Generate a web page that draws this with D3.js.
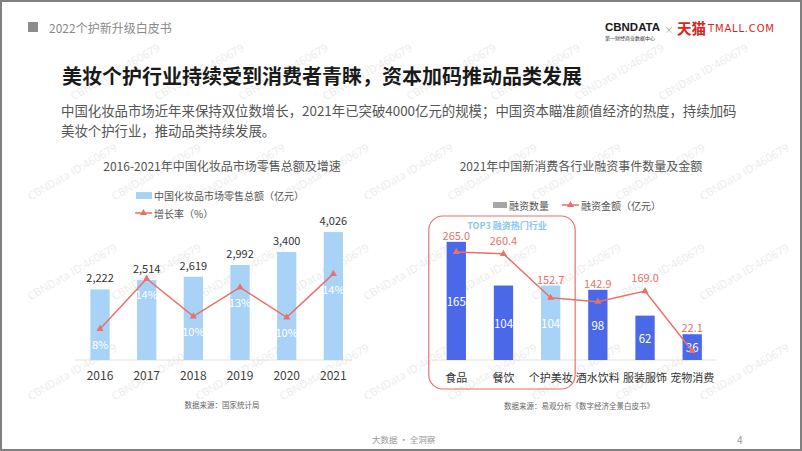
<!DOCTYPE html>
<html>
<head>
<meta charset="utf-8">
<script src="https://cdn.jsdelivr.net/npm/d3@7"></script>
<style>
  html, body { margin: 0; padding: 0; background: #fff; }
  svg { display: block; }
</style>
</head>
<body>
<svg id="chart" width="802" height="451"></svg>
<script>
// ---------------- DATA ----------------
const years = ["2016", "2017", "2018", "2019", "2020", "2021"];
const retailSales = [2222, 2514, 2619, 2992, 3400, 4026];      // 亿元
const growthRate = [8.3, 13.5, 9.6, 12.6, 9.5, 14.0];           // %

const industries = ["食品", "餐饮", "个护美妆", "酒水饮料", "服装服饰", "宠物消费"];
const dealCounts = [165, 104, 104, 98, 62, 36];
const dealAmounts = [265.0, 260.4, 152.7, 142.9, 169.0, 22.1];   // 亿元
const highlightIndustry = "个护美妆";
const top3Industries = ["食品", "餐饮", "个护美妆"];

const headerText = "2022个护新升级白皮书";
const titleText = "美妆个护行业持续受到消费者青睐，资本加码推动品类发展";
const subtitleLines = [
  "中国化妆品市场近年来保持双位数增长，2021年已突破4000亿元的规模；中国资本瞄准颜值经济的热度，持续加码",
  "美妆个护行业，推动品类持续发展。"
];
const leftTitle = "2016-2021年中国化妆品市场零售总额及增速";
const leftLegend = ["中国化妆品市场零售总额（亿元）", "增长率（%）"];
const leftSource = "数据来源：国家统计局";
const rightTitle = "2021年中国新消费各行业融资事件数量及金额";
const rightLegend = ["融资数量", "融资金额（亿元）"];
const rightSource = "数据来源：易观分析《数字经济全景白皮书》";
const topLabel = "TOP3 融资热门行业";
const footerText = "大数据 · 全洞察";
const pageNumber = "4";
const watermark = "CBNData ID:460679";

// ---------------- STYLE ----------------
const FONT = '"Noto Sans CJK SC", "Noto Sans", sans-serif';
const C_LIGHT = "#a8d3f7";
const C_BLUE = "#4a68e8";
const C_LINE = "#e9716b";
const C_GRAY_LEG = "#a6a6a6";

const svg = d3.select("#chart").style("font-family", FONT);

svg.append("rect").attr("width", 802).attr("height", 451).attr("fill", "#fff");

// watermarks (only those fully inside the frame)
const wm = svg.append("g").attr("fill", "#ececec").attr("font-size", 11)
  .attr("font-family", '"Open Sans", sans-serif');
for (let j = 0; j < 5; j++) {
  for (let i = -1; i < 10; i++) {
    const x = 77 + 84 * i + (j > 0 ? 41 : 0);
    const y = 50 + 100 * j;
    const t = wm.append("text").attr("transform", `translate(${x},${y}) rotate(-30)`)
      .attr("text-anchor", "end").text(watermark);
    const len = t.node().getComputedTextLength();
    const sx = x - len * 0.866, sy = y + len * 0.5;
    if (sx < 4 || x > 797 || y - 10 < 4 || sy + 6 > 446) t.remove();
  }
}

// frame
svg.append("rect").attr("x", 1).attr("y", 1).attr("width", 800).attr("height", 449)
  .attr("fill", "none").attr("stroke", "#808080").attr("stroke-width", 2);

// header
svg.append("rect").attr("x", 28).attr("y", 22).attr("width", 10).attr("height", 10).attr("fill", "#8c8c8c");
svg.append("text").attr("x", 49).attr("y", 27).attr("dominant-baseline", "central")
  .attr("font-size", 12).attr("fill", "#8a8a8a").text(headerText);

// logo
svg.append("text").attr("x", 605).attr("y", 26.5).attr("dominant-baseline", "central")
  .attr("font-family", '"Liberation Sans", Arial, sans-serif').attr("font-weight", "bold")
  .attr("font-size", 10.5).attr("textLength", 55).attr("lengthAdjust", "spacingAndGlyphs")
  .attr("fill", "#1a1a1a").text("CBNDATA");
svg.append("text").attr("x", 605).attr("y", 37).attr("dominant-baseline", "central")
  .attr("font-size", 5).attr("fill", "#333").text("第一财经商业数据中心");
svg.append("text").attr("x", 669).attr("y", 29).attr("dominant-baseline", "central")
  .attr("font-size", 9).attr("fill", "#999").attr("text-anchor", "middle").text("×");
svg.append("text").attr("x", 677).attr("y", 27.5).attr("dominant-baseline", "central")
  .attr("font-size", 14.5).attr("font-weight", "bold").attr("fill", "#d9261c").text("天猫");
svg.append("text").attr("x", 708).attr("y", 28.5).attr("dominant-baseline", "central")
  .attr("font-family", '"DejaVu Sans", sans-serif').attr("font-size", 10)
  .attr("textLength", 66).attr("fill", "#d9261c").text("TMALL.COM");

// title
svg.append("text").attr("x", 62).attr("y", 75).attr("dominant-baseline", "central")
  .attr("font-size", 20).attr("font-weight", "bold").attr("fill", "#1a1a1a").text(titleText);

// subtitle
subtitleLines.forEach((t, i) => {
  svg.append("text").attr("x", 61).attr("y", 110 + i * 20).attr("dominant-baseline", "central")
    .attr("font-size", 13.4).attr("fill", "#555").text(t);
});

function triangle(g, x, y, color) {
  g.append("path").attr("d", d3.symbol(d3.symbolTriangle, 22)())
    .attr("transform", `translate(${x},${y})`).attr("fill", color);
}

// ---------------- LEFT CHART ----------------
const baseY = 360;
const xL = d3.scalePoint().domain(years).range([76.7, 356.7]).padding(0.5);
const yL = d3.scaleLinear().domain([0, 4500]).range([baseY, 217]);
const yG = d3.scaleLinear().domain([0, 20]).range([409, 216]);
const barW = 19.3;

const L = svg.append("g");
L.append("text").attr("x", 222).attr("y", 165).attr("text-anchor", "middle")
  .attr("dominant-baseline", "central").attr("font-size", 12).attr("fill", "#555").text(leftTitle);

// legend
L.append("rect").attr("x", 136).attr("y", 192).attr("width", 16).attr("height", 7).attr("fill", C_LIGHT);
L.append("text").attr("x", 154).attr("y", 195.5).attr("dominant-baseline", "central")
  .attr("font-size", 10).attr("fill", "#555").text(leftLegend[0]);
L.append("line").attr("x1", 135).attr("x2", 152).attr("y1", 213).attr("y2", 213)
  .attr("stroke", C_LINE).attr("stroke-width", 1.5);
triangle(L, 143.5, 213, C_LINE);
L.append("text").attr("x", 154).attr("y", 213).attr("dominant-baseline", "central")
  .attr("font-size", 10).attr("fill", "#555").text(leftLegend[1]);

// baseline
L.append("line").attr("x1", 75).attr("x2", 352).attr("y1", baseY).attr("y2", baseY)
  .attr("stroke", "#e3e3e3").attr("stroke-width", 1);

// bars
L.selectAll(".bar").data(retailSales).join("rect")
  .attr("x", (d, i) => xL(years[i]) - barW / 2)
  .attr("y", d => yL(d)).attr("width", barW).attr("height", d => baseY - yL(d))
  .attr("fill", C_LIGHT);
L.selectAll(".vlab").data(retailSales).join("text")
  .attr("x", (d, i) => xL(years[i])).attr("y", d => yL(d) - 12)
  .attr("text-anchor", "middle").attr("dominant-baseline", "central")
  .attr("font-size", 11).attr("fill", "#333").text(d => d3.format(",")(d));

// line
const lineL = d3.line().x((d, i) => xL(years[i])).y(d => yG(d));
L.append("path").datum(growthRate).attr("d", lineL).attr("fill", "none")
  .attr("stroke", C_LINE).attr("stroke-width", 1.5);
growthRate.forEach((d, i) => triangle(L, xL(years[i]), yG(d), C_LINE));
L.selectAll(".glab").data(growthRate).join("text")
  .attr("x", (d, i) => xL(years[i])).attr("y", d => yG(d) + 15)
  .attr("text-anchor", "middle").attr("dominant-baseline", "central")
  .attr("font-size", 11).attr("fill", "#fff").text(d => Math.round(d) + "%");

// x labels
L.selectAll(".xlab").data(years).join("text")
  .attr("x", d => xL(d)).attr("y", 374.5).attr("text-anchor", "middle")
  .attr("dominant-baseline", "central").attr("font-size", 12).attr("fill", "#404040").text(d => d);

L.append("text").attr("x", 222).attr("y", 404.5).attr("text-anchor", "middle")
  .attr("dominant-baseline", "central").attr("font-size", 7.5).attr("fill", "#666").text(leftSource);

// ---------------- RIGHT CHART ----------------
const xR = d3.scalePoint().domain(industries).range([432.7, 715.8]).padding(0.5);
const yC = d3.scaleLinear().domain([0, 200]).range([baseY, 216.8]);
const yA = d3.scaleLinear().domain([0, 350]).range([baseY, 217.3]);

const R = svg.append("g");
R.append("text").attr("x", 581).attr("y", 165).attr("text-anchor", "middle")
  .attr("dominant-baseline", "central").attr("font-size", 12).attr("fill", "#555").text(rightTitle);

// legend
R.append("rect").attr("x", 493).attr("y", 202).attr("width", 14).attr("height", 6).attr("fill", C_GRAY_LEG);
R.append("text").attr("x", 509).attr("y", 205).attr("dominant-baseline", "central")
  .attr("font-size", 10).attr("fill", "#555").text(rightLegend[0]);
R.append("line").attr("x1", 562).attr("x2", 579).attr("y1", 205).attr("y2", 205)
  .attr("stroke", C_LINE).attr("stroke-width", 1.5);
triangle(R, 570.5, 205, C_LINE);
R.append("text").attr("x", 581).attr("y", 205).attr("dominant-baseline", "central")
  .attr("font-size", 10).attr("fill", "#555").text(rightLegend[1]);

// baseline
R.append("line").attr("x1", 432).attr("x2", 716).attr("y1", baseY).attr("y2", baseY)
  .attr("stroke", "#e3e3e3").attr("stroke-width", 1);

// bars
R.selectAll(".bar").data(dealCounts).join("rect")
  .attr("x", (d, i) => xR(industries[i]) - barW / 2)
  .attr("y", d => yC(d)).attr("width", barW).attr("height", d => baseY - yC(d))
  .attr("fill", (d, i) => industries[i] === highlightIndustry ? C_LIGHT : C_BLUE);
R.selectAll(".clab").data(dealCounts).join("text")
  .attr("x", (d, i) => xR(industries[i])).attr("y", d => (yC(d) + baseY) / 2)
  .attr("text-anchor", "middle").attr("dominant-baseline", "central")
  .attr("font-size", 11.5).attr("fill", "#fff").text(d => d);

// line
const lineR = d3.line().x((d, i) => xR(industries[i])).y(d => yA(d));
R.append("path").datum(dealAmounts).attr("d", lineR).attr("fill", "none")
  .attr("stroke", C_LINE).attr("stroke-width", 1.5);
dealAmounts.forEach((d, i) => triangle(R, xR(industries[i]), yA(d), C_LINE));
R.selectAll(".alab").data(dealAmounts).join("text")
  .attr("x", (d, i) => xR(industries[i]))
  .attr("y", (d, i) => Math.min(yA(d) - 14, yC(dealCounts[i]) - 7))
  .attr("text-anchor", "middle").attr("dominant-baseline", "central")
  .attr("font-size", 11).attr("fill", C_LINE).text(d => d3.format(".1f")(d));

// x labels
R.selectAll(".xlab").data(industries).join("text")
  .attr("x", d => xR(d)).attr("y", 377).attr("text-anchor", "middle")
  .attr("dominant-baseline", "central").attr("font-size", 11).attr("fill", "#333").text(d => d);

// TOP3 box
const bx0 = xR(top3Industries[0]) - 27.5;
const bx1 = xR(top3Industries[top3Industries.length - 1]) + 24.5;
R.append("rect").attr("x", bx0).attr("y", 216).attr("width", bx1 - bx0).attr("height", 173)
  .attr("rx", 14).attr("fill", "none").attr("stroke", C_LINE).attr("stroke-width", 1.2);
R.append("text").attr("x", (bx0 + bx1) / 2 + 5).attr("y", 225).attr("text-anchor", "middle")
  .attr("dominant-baseline", "central").attr("font-size", 9).attr("font-weight", "bold")
  .attr("fill", "#8cc6f2").text(topLabel);

R.append("text").attr("x", 579).attr("y", 405).attr("text-anchor", "middle")
  .attr("dominant-baseline", "central").attr("font-size", 7.5).attr("fill", "#666").text(rightSource);

// footer
svg.append("text").attr("x", 372).attr("y", 439).attr("dominant-baseline", "central")
  .attr("font-size", 8.5).attr("fill", "#999").text(footerText);
svg.append("text").attr("x", 737).attr("y", 439).attr("dominant-baseline", "central")
  .attr("font-size", 10).attr("fill", "#999").text(pageNumber);
</script>
</body>
</html>
